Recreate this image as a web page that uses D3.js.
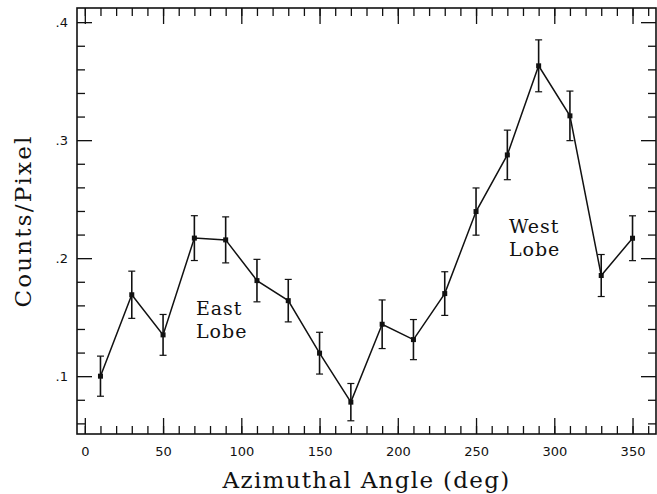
<!DOCTYPE html>
<html>
<head>
<meta charset="utf-8">
<script src="https://cdn.jsdelivr.net/npm/d3@7"></script>
<style>
  body { margin: 0; background: white; }
  .tick text { font-family: "DejaVu Sans", sans-serif; font-size: 13px; fill: #111; }
  .title { font-family: "DejaVu Serif", serif; font-size: 23px; fill: #111; }
  .lobe { font-family: "DejaVu Serif", serif; font-size: 19px; fill: #111; }
</style>
</head>
<body>
<svg id="chart" width="657" height="494"></svg>
<script>
// data
const angles = [10, 30, 50, 70, 90, 110, 130, 150, 170, 190, 210, 230, 250, 270, 290, 310, 330, 350];
const counts = [0.100, 0.169, 0.135, 0.217, 0.2155, 0.181, 0.164, 0.1195, 0.078, 0.144,
                0.131, 0.170, 0.2395, 0.2875, 0.363, 0.3206, 0.1853, 0.2169];
const errors = [0.017, 0.020, 0.0173, 0.019, 0.0195, 0.018, 0.018, 0.0177, 0.0158, 0.0206,
                0.017, 0.0185, 0.020, 0.021, 0.022, 0.021, 0.0178, 0.019];
const xMinorTicks = d3.range(0, 361, 10);
const xMajorTicks = [0, 50, 100, 150, 200, 250, 300, 350];
const yMinorTicks = [0.06, 0.08, 0.12, 0.14, 0.16, 0.18, 0.22, 0.24, 0.26, 0.28, 0.32, 0.34, 0.36, 0.38];
const yMajorTicks = [0.1, 0.2, 0.3, 0.4];
const labels = [
  {lines: ["East", "Lobe"], angle: 71, value: 0.152},
  {lines: ["West", "Lobe"], angle: 271, value: 0.221}
];

const svg = d3.select("svg#chart");
const plotLeft = 77, plotRight = 656, plotTop = 8, plotBottom = 434;

const x = d3.scaleLinear().domain([-5, 365]).range([plotLeft, plotRight]);
const y = d3.scaleLinear().domain([0.051, 0.412]).range([plotBottom, plotTop]);

const yFmt = d => d3.format(".1f")(d).replace(/^0/, "");

// bottom axis
svg.append("g").attr("transform", `translate(0,${plotBottom})`)
    .call(d3.axisBottom(x).tickValues(xMinorTicks).tickSize(-8).tickFormat(""));
svg.append("g").attr("transform", `translate(0,${plotBottom})`)
    .call(d3.axisBottom(x).tickValues(xMajorTicks).tickSize(-16).tickPadding(12.5));
// top axis
svg.append("g").attr("transform", `translate(0,${plotTop})`)
    .call(d3.axisTop(x).tickValues(xMinorTicks).tickSize(-8).tickFormat(""));
svg.append("g").attr("transform", `translate(0,${plotTop})`)
    .call(d3.axisTop(x).tickValues(xMajorTicks).tickSize(-16).tickFormat(""));
// left axis
svg.append("g").attr("transform", `translate(${plotLeft},0)`)
    .call(d3.axisLeft(y).tickValues(yMinorTicks).tickSize(-8).tickFormat(""));
svg.append("g").attr("transform", `translate(${plotLeft},0)`)
    .call(d3.axisLeft(y).tickValues(yMajorTicks).tickSize(-15).tickPadding(9).tickFormat(yFmt));
// right axis
svg.append("g").attr("transform", `translate(${plotRight},0)`)
    .call(d3.axisRight(y).tickValues(yMinorTicks).tickSize(-8).tickFormat(""));
svg.append("g").attr("transform", `translate(${plotRight},0)`)
    .call(d3.axisRight(y).tickValues(yMajorTicks).tickSize(-15).tickFormat(""));

svg.selectAll(".domain").remove();
svg.selectAll(".tick line").attr("stroke", "#111").attr("stroke-width", 1.3);

// frame
svg.append("rect")
    .attr("x", plotLeft).attr("y", plotTop)
    .attr("width", plotRight - plotLeft).attr("height", plotBottom - plotTop)
    .attr("fill", "none").attr("stroke", "#111").attr("stroke-width", 1.6);

const pts = angles.map((a, i) => ({a: a, v: counts[i], e: errors[i]}));

// error bars
const eb = svg.append("g").attr("stroke", "#111").attr("stroke-width", 1.6);
eb.selectAll("line.bar").data(pts).join("line").attr("class", "bar")
    .attr("x1", d => x(d.a)).attr("x2", d => x(d.a))
    .attr("y1", d => y(d.v + d.e)).attr("y2", d => y(d.v - d.e));
eb.selectAll("line.captop").data(pts).join("line").attr("class", "captop")
    .attr("x1", d => x(d.a) - 3.5).attr("x2", d => x(d.a) + 3.5)
    .attr("y1", d => y(d.v + d.e)).attr("y2", d => y(d.v + d.e))
    .attr("stroke-width", 1.2);
eb.selectAll("line.capbot").data(pts).join("line").attr("class", "capbot")
    .attr("x1", d => x(d.a) - 3.5).attr("x2", d => x(d.a) + 3.5)
    .attr("y1", d => y(d.v - d.e)).attr("y2", d => y(d.v - d.e))
    .attr("stroke-width", 1.2);

// connecting line
svg.append("path").datum(pts)
    .attr("fill", "none").attr("stroke", "#111").attr("stroke-width", 1.5)
    .attr("d", d3.line().x(d => x(d.a)).y(d => y(d.v)));

// markers
svg.selectAll("rect.pt").data(pts).join("rect").attr("class", "pt")
    .attr("x", d => x(d.a) - 2.5).attr("y", d => y(d.v) - 2.5)
    .attr("width", 5).attr("height", 5).attr("fill", "#111");

// lobe labels
labels.forEach(l => {
  const t = svg.append("text").attr("class", "lobe")
      .attr("x", x(l.angle)).attr("y", y(l.value)).attr("letter-spacing", 1);
  l.lines.forEach((s, i) => {
    t.append("tspan").attr("x", x(l.angle)).attr("dy", i === 0 ? 0 : 23).text(s);
  });
});

// axis titles
svg.append("text").attr("class", "title")
    .attr("x", (plotLeft + plotRight) / 2).attr("y", 488)
    .attr("text-anchor", "middle").attr("letter-spacing", 1.3)
    .text("Azimuthal Angle (deg)");
svg.append("text").attr("class", "title")
    .attr("transform", `translate(31,${(plotTop + plotBottom) / 2}) rotate(-90)`)
    .attr("text-anchor", "middle").attr("letter-spacing", 2.2)
    .text("Counts/Pixel");
</script>
</body>
</html>
